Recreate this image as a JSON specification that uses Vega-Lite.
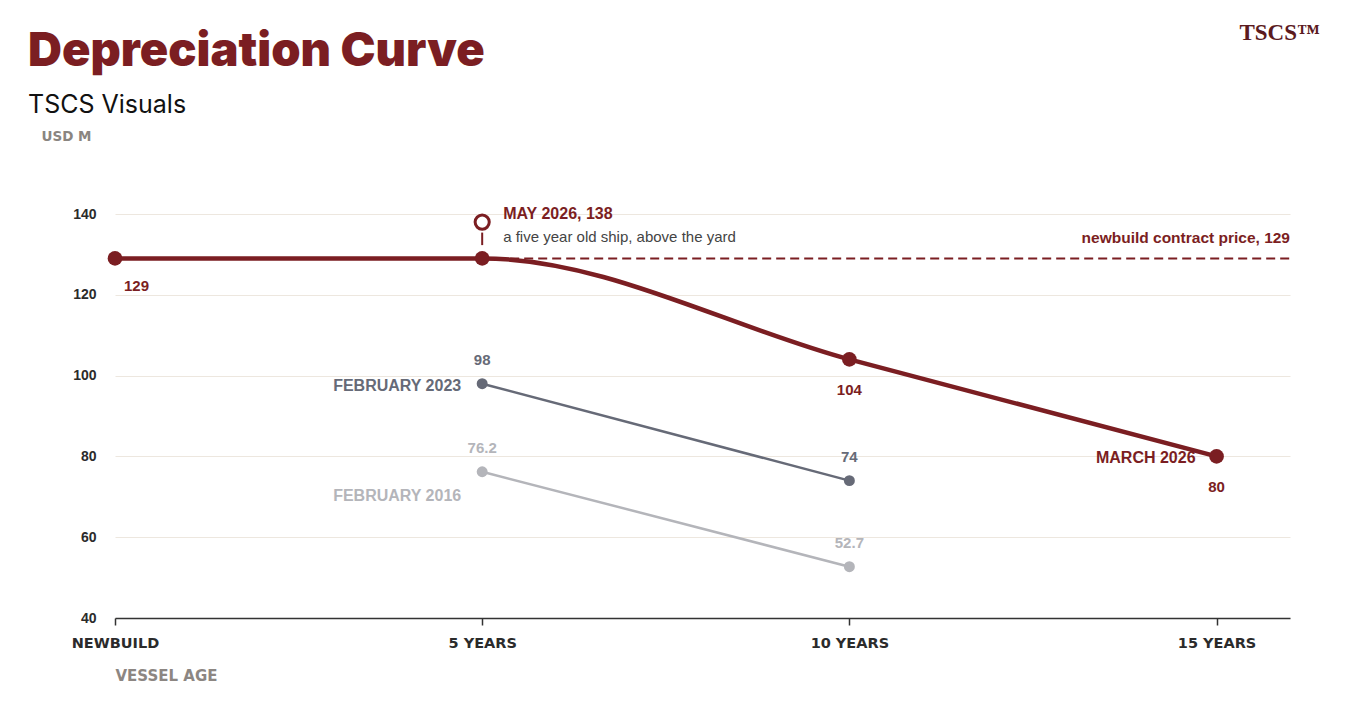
{
  "$schema": "https://vega.github.io/schema/vega-lite/v6.json",
  "width": 1175,
  "height": 404,
  "autosize": {"type": "none"},
  "padding": {"left": 115, "top": 214, "right": 65, "bottom": 83},
  "background": "#ffffff",
  "title": {
    "text": "Depreciation Curve",
    "subtitle": "TSCS Visuals",
    "anchor": "start",
    "frame": "group",
    "dx": -87,
    "dy": 97,
    "offset": 0,
    "font": "Inter",
    "fontSize": 47,
    "fontWeight": 900,
    "color": "#7b1e22",
    "subtitleFont": "Inter",
    "subtitleFontSize": 25,
    "subtitleColor": "#111111",
    "subtitlePadding": 17
  },
  "datasets": {
    "prices": [
      {"series": "MARCH 2026", "age": 0, "price": 129},
      {"series": "MARCH 2026", "age": 5, "price": 129},
      {"series": "MARCH 2026", "age": 10, "price": 104},
      {"series": "MARCH 2026", "age": 15, "price": 80},
      {"series": "FEBRUARY 2023", "age": 5, "price": 98},
      {"series": "FEBRUARY 2023", "age": 10, "price": 74},
      {"series": "FEBRUARY 2016", "age": 5, "price": 76.2},
      {"series": "FEBRUARY 2016", "age": 10, "price": 52.7}
    ],
    "contract": [
      {"age": 5, "age_end": 16, "price": 129, "note": "newbuild contract price, 129"}
    ],
    "may": [
      {"age": 5, "price": 138, "headline": "MAY 2026, 138", "note": "a five year old ship, above the yard"}
    ],
    "brand": [
      {"age": 16, "price": 184.8, "logo": "TSCS™"}
    ]
  },
  "layer": [
    {
      "data": {"name": "contract"},
      "mark": {"type": "rule", "color": "#7b1e22", "strokeWidth": 2, "strokeDash": [9, 5]},
      "encoding": {
        "x": {
          "field": "age",
          "type": "quantitative",
          "scale": {"domain": [0, 16], "nice": false},
          "axis": {
            "values": [0, 5, 10, 15],
            "labelExpr": "datum.value == 0 ? 'NEWBUILD' : datum.value + ' YEARS'",
            "grid": false,
            "domainColor": "#333333",
            "domainWidth": 1.5,
            "tickColor": "#333333",
            "tickWidth": 1.5,
            "tickSize": 7,
            "labelFont": "DejaVu Sans",
            "labelFontSize": 14.5,
            "labelFontWeight": "bold",
            "labelColor": "#2b2b2b",
            "labelPadding": 11,
            "labelFlush": false,
            "title": "VESSEL AGE",
            "titleFont": "DejaVu Sans",
            "titleFontSize": 15,
            "titleFontWeight": "bold",
            "titleColor": "#8c8682",
            "titleAlign": "left",
            "titleAnchor": "start",
            "titleBaseline": "middle",
            "titleX": 0,
            "titleY": 57
          }
        },
        "x2": {"field": "age_end"},
        "y": {
          "field": "price",
          "type": "quantitative",
          "scale": {"domain": [40, 140], "nice": false, "zero": false},
          "axis": {
            "values": [40, 60, 80, 100, 120, 140],
            "domain": false,
            "ticks": false,
            "gridColor": "#ede7df",
            "gridWidth": 1,
            "labelFont": "Liberation Sans",
            "labelFontSize": 14,
            "labelFontWeight": "bold",
            "labelColor": "#2b2b2b",
            "labelPadding": 19,
            "title": "USD M",
            "titleFont": "DejaVu Sans",
            "titleFontSize": 13.5,
            "titleFontWeight": "bold",
            "titleColor": "#8a8580",
            "titleAngle": 0,
            "titleAlign": "left",
            "titleBaseline": "middle",
            "titleX": -74,
            "titleY": -78
          }
        }
      }
    },
    {
      "data": {"name": "contract"},
      "mark": {"type": "text", "align": "right", "baseline": "middle", "dy": -20, "font": "Liberation Sans", "fontSize": 15.5, "fontWeight": "bold", "color": "#7b1e22"},
      "encoding": {
        "x": {"field": "age_end", "type": "quantitative"},
        "y": {"field": "price", "type": "quantitative"},
        "text": {"field": "note"}
      }
    },
    {
      "data": {"name": "prices"},
      "transform": [{"filter": "datum.series != 'MARCH 2026'"}],
      "mark": {"type": "line", "strokeWidth": 2.5},
      "encoding": {
        "x": {"field": "age", "type": "quantitative"},
        "y": {"field": "price", "type": "quantitative"},
        "color": {
          "field": "series",
          "type": "nominal",
          "scale": {"domain": ["MARCH 2026", "FEBRUARY 2023", "FEBRUARY 2016"], "range": ["#7b1e22", "#666a77", "#b4b5ba"]},
          "legend": null
        }
      }
    },
    {
      "data": {"name": "prices"},
      "transform": [{"filter": "datum.series == 'MARCH 2026'"}],
      "mark": {"type": "line", "interpolate": "monotone", "strokeWidth": 4.5, "color": "#7b1e22"},
      "encoding": {
        "x": {"field": "age", "type": "quantitative"},
        "y": {"field": "price", "type": "quantitative"}
      }
    },
    {
      "data": {"name": "prices"},
      "transform": [{"filter": "datum.series != 'MARCH 2026'"}],
      "mark": {"type": "circle", "size": 120, "opacity": 1},
      "encoding": {
        "x": {"field": "age", "type": "quantitative"},
        "y": {"field": "price", "type": "quantitative"},
        "color": {"field": "series", "type": "nominal", "legend": null}
      }
    },
    {
      "data": {"name": "prices"},
      "transform": [{"filter": "datum.series == 'MARCH 2026'"}],
      "mark": {"type": "circle", "size": 215, "opacity": 1, "color": "#7b1e22"},
      "encoding": {
        "x": {"field": "age", "type": "quantitative"},
        "y": {"field": "price", "type": "quantitative"}
      }
    },
    {
      "data": {"name": "may"},
      "mark": {"type": "rule", "color": "#7b1e22", "strokeWidth": 2},
      "encoding": {
        "x": {"field": "age", "type": "quantitative"},
        "y": {"datum": 135.4},
        "y2": {"datum": 132.3}
      }
    },
    {
      "data": {"name": "may"},
      "mark": {"type": "point", "shape": "circle", "size": 200, "filled": true, "fill": "#ffffff", "stroke": "#7b1e22", "strokeWidth": 3, "opacity": 1},
      "encoding": {
        "x": {"field": "age", "type": "quantitative"},
        "y": {"field": "price", "type": "quantitative"}
      }
    },
    {
      "data": {"name": "may"},
      "mark": {"type": "text", "align": "left", "baseline": "middle", "dx": 21, "dy": -8, "font": "Liberation Sans", "fontSize": 16, "fontWeight": "bold", "color": "#7b1e22"},
      "encoding": {
        "x": {"field": "age", "type": "quantitative"},
        "y": {"field": "price", "type": "quantitative"},
        "text": {"field": "headline"}
      }
    },
    {
      "data": {"name": "may"},
      "mark": {"type": "text", "align": "left", "baseline": "middle", "dx": 21, "dy": 15, "font": "Liberation Sans", "fontSize": 15, "color": "#444444"},
      "encoding": {
        "x": {"field": "age", "type": "quantitative"},
        "y": {"field": "price", "type": "quantitative"},
        "text": {"field": "note"}
      }
    },
    {
      "data": {"name": "prices"},
      "transform": [{"filter": "datum.series == 'MARCH 2026' && datum.age == 0"}],
      "mark": {"type": "text", "align": "left", "baseline": "middle", "dx": 9, "dy": 28, "font": "Liberation Sans", "fontSize": 15, "fontWeight": "bold", "color": "#7b1e22"},
      "encoding": {
        "x": {"field": "age", "type": "quantitative"},
        "y": {"field": "price", "type": "quantitative"},
        "text": {"field": "price", "type": "quantitative"}
      }
    },
    {
      "data": {"name": "prices"},
      "transform": [{"filter": "datum.series == 'MARCH 2026' && datum.age >= 10"}],
      "mark": {"type": "text", "align": "center", "baseline": "middle", "dy": 31, "font": "Liberation Sans", "fontSize": 15, "fontWeight": "bold", "color": "#7b1e22"},
      "encoding": {
        "x": {"field": "age", "type": "quantitative"},
        "y": {"field": "price", "type": "quantitative"},
        "text": {"field": "price", "type": "quantitative"}
      }
    },
    {
      "data": {"name": "prices"},
      "transform": [{"filter": "datum.series != 'MARCH 2026'"}],
      "mark": {"type": "text", "align": "center", "baseline": "middle", "dy": -24, "font": "Liberation Sans", "fontSize": 15, "fontWeight": "bold"},
      "encoding": {
        "x": {"field": "age", "type": "quantitative"},
        "y": {"field": "price", "type": "quantitative"},
        "text": {"field": "price", "type": "quantitative"},
        "color": {"field": "series", "type": "nominal", "legend": null}
      }
    },
    {
      "data": {"name": "prices"},
      "transform": [{"filter": "(datum.series == 'MARCH 2026' && datum.age == 15) || (datum.series == 'FEBRUARY 2023' && datum.age == 5)"}],
      "mark": {"type": "text", "align": "right", "baseline": "middle", "dx": -21, "dy": 2, "font": "Liberation Sans", "fontSize": 16, "fontWeight": "bold"},
      "encoding": {
        "x": {"field": "age", "type": "quantitative"},
        "y": {"field": "price", "type": "quantitative"},
        "text": {"field": "series"},
        "color": {"field": "series", "type": "nominal", "legend": null}
      }
    },
    {
      "data": {"name": "prices"},
      "transform": [{"filter": "datum.series == 'FEBRUARY 2016' && datum.age == 5"}],
      "mark": {"type": "text", "align": "right", "baseline": "middle", "dx": -21, "dy": 24, "font": "Liberation Sans", "fontSize": 16, "fontWeight": "bold"},
      "encoding": {
        "x": {"field": "age", "type": "quantitative"},
        "y": {"field": "price", "type": "quantitative"},
        "text": {"field": "series"},
        "color": {"field": "series", "type": "nominal", "legend": null}
      }
    },
    {
      "data": {"name": "brand"},
      "mark": {"type": "text", "align": "right", "baseline": "middle", "dx": 30, "font": "Liberation Serif", "fontSize": 23, "fontWeight": "bold", "color": "#5b1a1e"},
      "encoding": {
        "x": {"field": "age", "type": "quantitative"},
        "y": {"field": "price", "type": "quantitative"},
        "text": {"field": "logo"}
      }
    }
  ],
  "config": {
    "view": {"stroke": null}
  }
}
